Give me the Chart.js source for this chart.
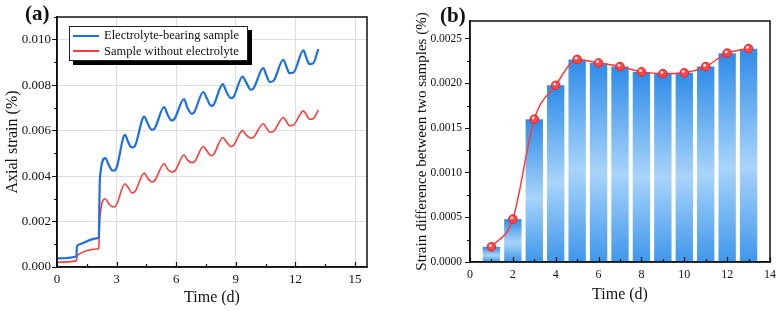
<!DOCTYPE html>
<html>
<head>
<meta charset="utf-8">
<script src="https://cdn.jsdelivr.net/npm/chart.js@4.4.1/dist/chart.umd.min.js"></script>
<style>
  html, body { margin: 0; padding: 0; background: #fff; }
  body { width: 782px; height: 312px; position: relative; overflow: hidden;
         font-family: 'Liberation Serif', 'Times New Roman', serif; color: #111; }
  .panel { position: absolute; top: 0; height: 312px; }
  #panelA { left: 0; width: 390px; }
  #panelB { left: 390px; width: 392px; }
  .tag { position: absolute; font-weight: bold; font-size: 21px; line-height: 1; }
  #legendA { position: absolute; left: 69px; top: 26px; width: 177px; background: #fff;
             border: 1px solid #222; box-shadow: 4px 4px 0 #000; font-size: 12.5px; padding: 1px 0; }
  .row { display: flex; align-items: center; height: 15.5px; white-space: nowrap; }
  .swatch { width: 26px; height: 0; margin: 0 5px 0 3px; }
</style>
</head>
<body>
<div class="panel" id="panelA"><canvas id="chartA" width="390" height="312"></canvas></div>
<div class="panel" id="panelB"><canvas id="chartB" width="392" height="312"></canvas></div>
<div class="tag" style="left:25px;top:3px;">(a)</div>
<div class="tag" style="left:440px;top:5px;">(b)</div>
<div id="legendA"></div>
<script>
// (a) axial strain vs time
var timeDays = [0, 0.98, 1.0, 1.08, 2.0, 2.1, 2.16, 2.43, 2.6, 2.8, 2.95,
  3.42, 3.58, 3.76, 3.9, 4.39, 4.57, 4.77, 4.9, 5.39, 5.57, 5.77, 5.9,
  6.39, 6.57, 6.78, 6.9, 7.36, 7.55, 7.75, 7.88, 8.34, 8.53, 8.76, 8.88,
  9.34, 9.53, 9.75, 9.88, 10.38, 10.55, 10.72, 10.9, 11.39, 11.55, 11.69, 11.9,
  12.4, 12.55, 12.7, 12.88, 13.15];
var bearingStrain = [0.00038, 0.00046, 0.00088, 0.00098, 0.00126, 0.0013, 0.0039, 0.00479, 0.0045, 0.00424, 0.00428,
  0.00581, 0.0055, 0.00526, 0.0053, 0.00662, 0.0063, 0.00604, 0.00608, 0.00704, 0.0067, 0.00645, 0.0065,
  0.00739, 0.0070, 0.00674, 0.0068, 0.0077, 0.0074, 0.00709, 0.00714, 0.00805, 0.0077, 0.00743, 0.00748,
  0.00838, 0.0081, 0.0078, 0.00785, 0.00875, 0.0084, 0.00814, 0.0082, 0.00912, 0.0088, 0.00853, 0.00856,
  0.00953, 0.0092, 0.00893, 0.00895, 0.00959];
var plainStrain = [0.00021, 0.00027, 0.00045, 0.00055, 0.00079, 0.00082, 0.0022, 0.0030, 0.0028, 0.00264, 0.00268,
  0.00366, 0.0035, 0.00327, 0.0033, 0.00413, 0.0039, 0.00374, 0.00378, 0.00454, 0.0043, 0.00418, 0.0042,
  0.00493, 0.0047, 0.0046, 0.00462, 0.0053, 0.0051, 0.0049, 0.00495, 0.0057, 0.0055, 0.0053, 0.00535,
  0.0060, 0.0058, 0.00567, 0.0057, 0.0063, 0.0061, 0.00593, 0.00597, 0.00658, 0.0064, 0.00622, 0.00625,
  0.00687, 0.0067, 0.0065, 0.00652, 0.0069];
var seriesNames = ['Electrolyte-bearing sample', 'Sample without electrolyte'];

// (b) strain difference per day
var diffDays = [1, 2, 3, 4, 5, 6, 7, 8, 9, 10, 11, 12, 13];
var strainDiff = [0.00017, 0.00048, 0.0016, 0.00198, 0.00227, 0.00223, 0.00219, 0.00213, 0.00211, 0.00212, 0.00219, 0.00234, 0.00239];

var serif = "'Liberation Serif', 'Times New Roman', serif";
Chart.defaults.font.family = serif;
Chart.defaults.color = '#111';

function pairs(xs, ys) {
  return xs.map(function(x, i) { return { x: x, y: ys[i] }; });
}

// box round the plot area
var framePlugin = {
  id: 'frame',
  afterDraw: function(chart) {
    var a = chart.chartArea, ctx = chart.ctx;
    ctx.save();
    ctx.strokeStyle = '#111';
    ctx.lineWidth = 1.5;
    ctx.strokeRect(a.left, a.top, a.right - a.left, a.bottom - a.top);
    ctx.restore();
  }
};

// inward x ticks (major + minor), outward minor y ticks
var tickPlugin = {
  id: 'tickMarks',
  afterDraw: function(chart, args, opts) {
    var a = chart.chartArea, ctx = chart.ctx, x = chart.scales.x, y = chart.scales.y;
    ctx.save();
    ctx.strokeStyle = '#111';
    ctx.lineWidth = 1.2;
    ctx.beginPath();
    var n = Math.floor((x.max - x.min) / opts.xMinor + 1e-6);
    for (var i = 0; i <= n; i++) {
      var v = x.min + i * opts.xMinor;
      var px = Math.round(x.getPixelForValue(v)) + 0.5;
      var r = v / opts.xMajor;
      var major = Math.abs(r - Math.round(r)) < 1e-6;
      ctx.moveTo(px, a.bottom);
      ctx.lineTo(px, a.bottom - (major ? 5 : 3));
    }
    var m = Math.floor((y.max - y.min) / opts.yMinor + 1e-6);
    for (var j = 1; j <= m; j++) {
      var w = y.min + j * opts.yMinor;
      var q = w / opts.yMajor;
      if (Math.abs(q - Math.round(q)) < 1e-6) continue;
      var py = Math.round(y.getPixelForValue(w)) + 0.5;
      ctx.moveTo(a.left, py);
      ctx.lineTo(a.left - 3, py);
    }
    ctx.stroke();
    ctx.restore();
  }
};

// little white highlight on the red balls
var shinePlugin = {
  id: 'shine',
  afterDatasetsDraw: function(chart) {
    var ctx = chart.ctx;
    chart.data.datasets.forEach(function(ds, i) {
      if (ds.type !== 'line') return;
      chart.getDatasetMeta(i).data.forEach(function(pt) {
        ctx.save();
        ctx.fillStyle = 'rgba(255,255,255,0.9)';
        ctx.beginPath();
        ctx.arc(pt.x - 1, pt.y - 1.2, 1.4, 0, Math.PI * 2);
        ctx.fill();
        ctx.restore();
      });
    });
  }
};

var chartA = new Chart(document.getElementById('chartA'), {
  type: 'line',
  data: {
    datasets: [{
      label: seriesNames[0],
      data: pairs(timeDays, bearingStrain),
      borderColor: '#1b6fe6',
      borderWidth: 2.2,
      pointRadius: 0,
      cubicInterpolationMode: 'monotone'
    }, {
      label: seriesNames[1],
      data: pairs(timeDays, plainStrain),
      borderColor: '#ff3b3b',
      borderWidth: 1.6,
      pointRadius: 0,
      cubicInterpolationMode: 'monotone'
    }]
  },
  options: {
    responsive: false,
    animation: false,
    layout: { padding: { left: 0, right: 23, top: 17, bottom: 0 } },
    plugins: {
      legend: { display: false },
      tooltip: { enabled: false },
      tickMarks: { xMinor: 1.5, xMajor: 3, yMinor: 0.001, yMajor: 0.002 }
    },
    scales: {
      x: {
        type: 'linear', min: 0, max: 15.6,
        afterFit: function(s) { s.height = 45; },
        ticks: { stepSize: 3, includeBounds: false, font: { size: 13 }, padding: 5 },
        grid: { color: '#dedede', drawTicks: false },
        border: { color: '#111', width: 1.5 },
        title: { display: true, text: 'Time (d)', font: { size: 16 }, padding: { top: 0, bottom: 5 } }
      },
      y: {
        min: 0, max: 0.011,
        afterFit: function(s) { s.width = 57; },
        ticks: { stepSize: 0.002, includeBounds: false, font: { size: 13 }, padding: 1,
                 callback: function(v) { return v.toFixed(3); } },
        grid: { color: '#dedede', tickColor: '#111', tickLength: 5 },
        border: { color: '#111', width: 1.5 },
        title: { display: true, text: 'Axial strain (%)', font: { size: 16 }, padding: { top: 3, bottom: 0 } }
      }
    }
  },
  plugins: [framePlugin, tickPlugin]
});

// legend box for (a)
var legendBox = document.getElementById('legendA');
chartA.data.datasets.forEach(function(ds) {
  var row = document.createElement('div');
  row.className = 'row';
  var sw = document.createElement('span');
  sw.className = 'swatch';
  sw.style.borderTop = '2px solid ' + ds.borderColor;
  row.appendChild(sw);
  row.appendChild(document.createTextNode(ds.label));
  legendBox.appendChild(row);
});

function barFill(context) {
  var chart = context.chart;
  if (!chart.chartArea || !context.parsed) return '#5aa6ee';
  var y = chart.scales.y;
  var top = y.getPixelForValue(context.parsed.y);
  var bottom = y.getPixelForValue(0);
  if (bottom - top < 1) return '#5aa6ee';
  var g = chart.ctx.createLinearGradient(0, top, 0, bottom);
  g.addColorStop(0, '#2e8ce8');
  g.addColorStop(0.55, '#a8d4fa');
  g.addColorStop(1, '#3f97ec');
  return g;
}

new Chart(document.getElementById('chartB'), {
  data: {
    datasets: [{
      type: 'line',
      label: 'Strain difference',
      data: pairs(diffDays, strainDiff),
      borderColor: '#ff3b3b',
      borderWidth: 1.5,
      pointRadius: 4.3,
      pointBackgroundColor: '#ff4646',
      pointBorderColor: '#e3222c',
      pointBorderWidth: 1,
      cubicInterpolationMode: 'monotone',
      order: 0
    }, {
      type: 'bar',
      label: 'Strain difference bars',
      data: pairs(diffDays, strainDiff),
      backgroundColor: barFill,
      borderWidth: 0,
      barPercentage: 0.81,
      categoryPercentage: 1,
      order: 1
    }]
  },
  options: {
    responsive: false,
    animation: false,
    layout: { padding: { left: 0, right: 11, top: 21, bottom: 0 } },
    plugins: {
      legend: { display: false },
      tooltip: { enabled: false },
      tickMarks: { xMinor: 1, xMajor: 2, yMinor: 0.00025, yMajor: 0.0005 }
    },
    scales: {
      x: {
        type: 'linear', min: 0, max: 14, offset: false,
        afterFit: function(s) { s.height = 50; },
        ticks: { stepSize: 2, includeBounds: false, font: { size: 12 }, padding: 6 },
        grid: { display: true, offset: false, drawOnChartArea: false, drawTicks: false },
        border: { color: '#111', width: 1.5 },
        title: { display: true, text: 'Time (d)', font: { size: 16 }, padding: { top: 0, bottom: 8 } }
      },
      y: {
        min: 0, max: 0.0027,
        afterFit: function(s) { s.width = 80; },
        ticks: { stepSize: 0.0005, includeBounds: false, font: { size: 11.5 }, padding: 3,
                 callback: function(v) { return v.toFixed(4); } },
        grid: { drawOnChartArea: false, tickColor: '#111', tickLength: 5 },
        border: { color: '#111', width: 1.5 },
        title: { display: true, text: 'Strain difference between two samples (%)', font: { size: 15 },
                 padding: { top: 23, bottom: 0 } }
      }
    }
  },
  plugins: [framePlugin, tickPlugin, shinePlugin]
});
</script>
</body>
</html>
